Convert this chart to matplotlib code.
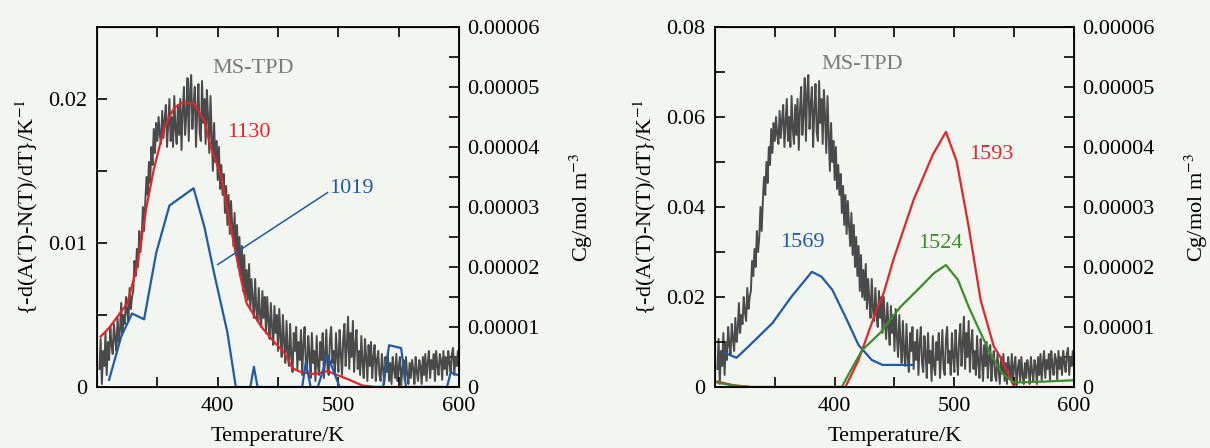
import numpy as np
import matplotlib.pyplot as plt

plt.rcParams['font.family'] = ['Liberation Serif', 'DejaVu Serif']
plt.rcParams['mathtext.fontset'] = 'stix'
plt.rcParams['font.size'] = 16

# MS-TPD trace (Cg, units of 1e-5 mol m-3), read every 1 K from 302 K
tpd_T = np.arange(302, 601)
tpd_cg = [0.3, 0.8, 0.05, 0.6, 0.35, 0.9, 0.2, 0.75,
          0.45, 1.0, 0.7, 0.55, 1.05, 0.8, 0.6, 1.15, 0.75, 0.95,
          1.4, 0.9, 1.2, 1.05, 1.5, 1.25, 1.1, 1.65, 1.3, 1.5,
          1.6, 2.1, 1.85, 2.3, 2.0, 2.6, 2.25, 2.5, 3.0, 2.6,
          3.1, 3.5, 3.2, 3.75, 3.4, 4.0, 3.7, 4.3, 3.9, 4.4,
          4.1, 4.5, 4.2, 4.05, 4.6, 4.15, 4.45, 4.7, 4.0, 4.4,
          4.8, 4.1, 4.5, 4.0, 4.85, 4.3, 4.05, 4.7, 4.2, 4.8,
          3.95, 4.6, 5.0, 4.2, 4.55, 5.15, 4.1, 4.9, 5.2, 4.3,
          4.7, 5.0, 4.0, 4.6, 5.05, 4.25, 4.1, 5.1, 4.4, 4.8,
          4.05, 4.95, 4.5, 3.9, 4.85, 4.2, 3.6, 4.4, 3.75, 4.1,
          3.45, 4.0, 3.3, 3.7, 3.2, 3.55, 2.9, 3.35, 2.7, 3.2,
          2.55, 3.1, 2.7, 2.35, 2.9, 2.2, 2.7, 2.0, 2.5, 1.85,
          2.35, 1.6, 2.2, 1.5, 1.95, 1.45, 2.05, 1.3, 1.8, 1.45,
          1.15, 1.8, 1.3, 1.1, 1.65, 1.2, 1.0, 1.6, 1.15, 1.5,
          0.9, 1.5, 1.1, 0.8, 1.4, 1.0, 0.7, 1.35, 0.9, 1.2,
          0.6, 1.3, 0.85, 0.5, 1.2, 0.75, 0.4, 1.1, 0.6, 0.35,
          1.05, 0.5, 0.25, 0.9, 0.6, 1.0, 0.3, 0.75, 0.45, 0.95,
          0.2, 0.7, 1.0, 0.4, 0.25, 0.85, 0.55, 0.15, 0.9, 0.4,
          0.6, 0.1, 0.85, 0.35, 0.2, 0.75, 0.45, 0.9, 0.15, 0.55,
          0.95, 0.3, 0.2, 0.8, 1.0, 0.4, 0.6, 0.2, 0.9, 0.5,
          0.25, 0.95, 0.55, 0.2, 0.8, 1.05, 0.35, 0.7, 1.17, 0.3,
          0.9, 0.5, 1.1, 0.25, 0.7, 0.95, 0.3, 0.6, 0.2, 0.85,
          0.4, 0.15, 0.8, 0.5, 0.1, 0.7, 0.35, 0.75, 0.15, 0.5,
          0.7, 0.1, 0.45, 0.6, 0.2, 0.1, 0.55, 0.3, 0.05, 0.5,
          0.25, 0.55, 0.1, 0.4, 0.05, 0.5, 0.3, 0.15, 0.55, 0.1,
          0.35, 0.5, 0.03, 0.3, 0.45, 0.1, 0.5, 0.2, 0.05, 0.4,
          0.15, 0.45, 0.3, 0.05, 0.5, 0.25, 0.1, 0.45, 0.35, 0.05,
          0.5, 0.2, 0.55, 0.1, 0.4, 0.6, 0.15, 0.45, 0.3, 0.55,
          0.1, 0.6, 0.35, 0.2, 0.55, 0.45, 0.12, 0.6, 0.3, 0.5,
          0.2, 0.6, 0.4, 0.25, 0.55, 0.65, 0.2, 0.5, 0.35, 0.6,
          0.3]

# left panel IR bands
b1130_T = [303, 310, 325, 333, 341, 347, 356, 364, 370, 380, 389, 394, 403, 408,
           414, 419, 424, 436, 447, 455, 462, 470, 481, 491, 500, 509, 520, 530, 600]
b1130 = [0.0035, 0.0041, 0.0058, 0.0083, 0.0125, 0.0151, 0.0181, 0.0194, 0.0197,
         0.0197, 0.0185, 0.0167, 0.0146, 0.0123, 0.0097, 0.0076, 0.0058, 0.0042,
         0.0031, 0.0024, 0.0013, 0.0010, 0.0009, 0.0011, 0.0008, 0.0005, 0.0001, 0.0, 0.0]

b1019_T = [310, 320, 329, 339, 349, 360, 370, 380, 389, 397, 408, 415, 427, 430,
           433, 470, 473, 477, 483, 491, 501, 537, 542, 552, 556, 590, 593, 600]
b1019 = [0.0005, 0.0035, 0.0051, 0.0047, 0.0093, 0.0126, 0.0132, 0.0138, 0.0111,
         0.0079, 0.0038, 0.0, 0.0, 0.0014, 0.0, 0.0, 0.0017, 0.0, 0.0, 0.0022, 0.0,
         0.0, 0.0029, 0.0027, 0.0, 0.0, 0.0010, 0.0008]

# right panel IR bands
b1569_T = [308, 318, 328, 348, 364, 381, 389, 398, 409, 420, 431, 440, 451, 465]
b1569 = [0.0076, 0.0065, 0.0090, 0.0142, 0.0201, 0.0256, 0.0245, 0.0216, 0.0156,
         0.0093, 0.0060, 0.0049, 0.0049, 0.0049]

b1593_T = [302, 315, 330, 409, 420, 434, 441, 449, 466, 482, 493, 502, 512, 522,
           533, 539, 550, 600]
b1593 = [0.0012, 0.0004, 0.0, 0.0, 0.0060, 0.0164, 0.0209, 0.0282, 0.0416, 0.0516,
         0.0567, 0.0501, 0.0356, 0.0193, 0.0090, 0.0064, 0.0, 0.0]

b1524_T = [302, 315, 330, 406, 412, 423, 438, 455, 472, 483, 493, 503, 512, 522,
           530, 540, 550, 575, 600]
b1524 = [0.0010, 0.0003, 0.0, 0.0, 0.0030, 0.0082, 0.0120, 0.0178, 0.0223, 0.0253,
         0.0271, 0.0238, 0.0178, 0.0120, 0.0075, 0.0030, 0.0010, 0.0012, 0.0015]

paper = '#f3f5f0'
red = '#e3242b'
blue = '#1f5aa6'
green = '#3c8c2c'
grey = '#4a4a4a'

fig = plt.figure(figsize=(12.1, 4.48), dpi=100, facecolor=paper)
ax_l = fig.add_axes([0.0802, 0.1362, 0.2992, 0.8036])
ax_r = fig.add_axes([0.5909, 0.1362, 0.2967, 0.8036])

cg_ticks = [0, 1e-5, 2e-5, 3e-5, 4e-5, 5e-5, 6e-5]
cg_labels = ['0', '0.00001', '0.00002', '0.00003', '0.00004', '0.00005', '0.00006']


def setup(ax, ymax, yticks, ylabels, yminor):
    ax.set_xlim(300, 600)
    ax.set_ylim(0, ymax)
    ax.set_xticks([400, 500, 600])
    ax.set_xticks([350, 450, 550], minor=True)
    ax.set_yticks(yticks)
    ax.set_yticklabels(ylabels)
    ax.set_yticks(yminor, minor=True)
    ax.tick_params(which='both', direction='in', length=7, width=1.2,
                   top=True, right=False, pad=7)
    ax.set_xlabel('Temperature/K', labelpad=8)
    ax.set_ylabel('{-d(A(T)-N(T)/dT}/K$^{-1}$', labelpad=6)
    for s in ax.spines.values():
        s.set_linewidth(1.3)
    tw = ax.twinx()
    tw.set_ylim(0, 6e-5)
    tw.set_yticks(cg_ticks)
    tw.set_yticklabels(cg_labels)
    tw.set_yticks(np.arange(0.5e-5, 6e-5, 1e-5), minor=True)
    tw.tick_params(which='both', direction='in', length=7, width=1.2, pad=6)
    tw.set_ylabel('Cg/mol m$^{-3}$', labelpad=20)
    tw.plot(tpd_T, np.array(tpd_cg) * 1e-5, color=grey, lw=1.4)
    # keep the IR curves above the MS trace
    ax.set_zorder(tw.get_zorder() + 1)
    ax.patch.set_visible(False)
    tw.patch.set_facecolor(paper)
    return tw


tw_l = setup(ax_l, 0.025, [0, 0.01, 0.02], ['0', '0.01', '0.02'], [0.005, 0.015])
ax_l.plot(b1130_T, b1130, color=red, lw=1.6)
ax_l.plot(b1019_T, b1019, color=blue, lw=1.6)
ax_l.plot([400, 491], [0.0085, 0.0135], color=blue, lw=1.1)
ax_l.text(429, 0.0221, 'MS-TPD', color='#7a7a7a', ha='center', va='center')
ax_l.text(408, 0.0177, '1130', color=red, ha='left', va='center')
ax_l.text(492, 0.0138, '1019', color=blue, ha='left', va='center')

tw_r = setup(ax_r, 0.08, [0, 0.02, 0.04, 0.06, 0.08],
             ['0', '0.02', '0.04', '0.06', '0.08'], [0.01, 0.03, 0.05, 0.07])
ax_r.plot(b1569_T, b1569, color=blue, lw=1.6)
ax_r.plot(b1593_T, b1593, color=red, lw=1.6)
ax_r.plot(b1524_T, b1524, color=green, lw=1.6)
ax_r.text(423, 0.0716, 'MS-TPD', color='#7a7a7a', ha='center', va='center')
ax_r.text(512, 0.0516, '1593', color=red, ha='left', va='center')
ax_r.text(488, 0.0318, '1524', color=green, ha='center', va='center')
ax_r.text(373, 0.0322, '1569', color=blue, ha='center', va='center')

fig.savefig('out.png', dpi=100, facecolor=paper)
